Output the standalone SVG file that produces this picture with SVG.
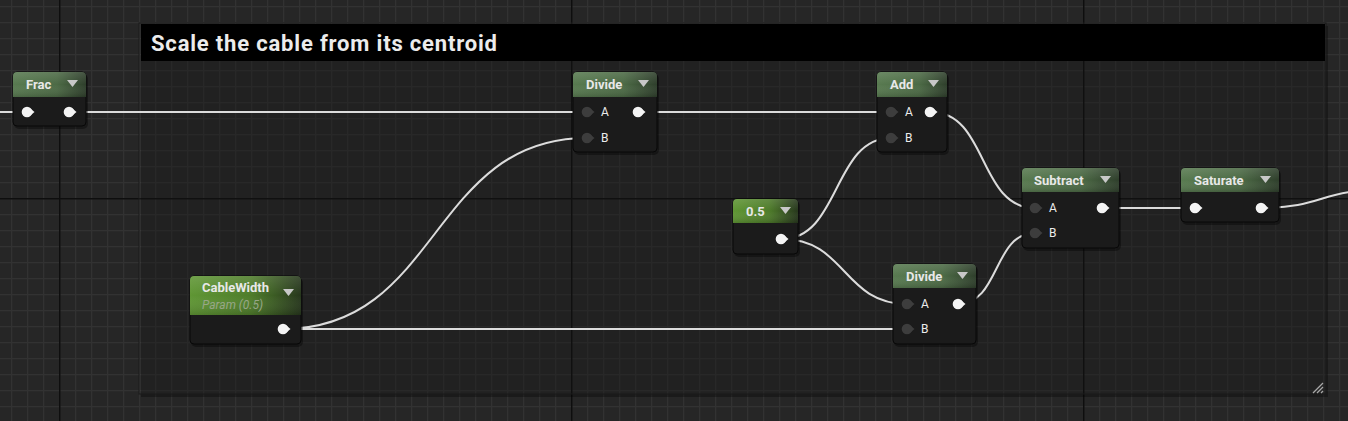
<svg xmlns="http://www.w3.org/2000/svg" width="1348" height="421" viewBox="0 0 1348 421">
<defs>
<pattern id="minor" patternUnits="userSpaceOnUse" x="11" y="6" width="16" height="16">
<path d="M0 0.5H16M0.5 0V16" stroke="#323232" stroke-width="1.5" fill="none"/>
</pattern>
<pattern id="major" patternUnits="userSpaceOnUse" x="59" y="198" width="512" height="512">
<path d="M0 0.5H512M0.5 0V512" stroke="#0e0e0e" stroke-width="2" fill="none"/>
</pattern>
<linearGradient id="hdr" x1="0" y1="0" x2="1" y2="0">
<stop offset="0" stop-color="#587a50"/>
<stop offset="0.6" stop-color="#4c6a45"/>
<stop offset="1" stop-color="#2e3e2b"/>
</linearGradient>
<linearGradient id="hdrB" x1="0" y1="0" x2="1" y2="0">
<stop offset="0" stop-color="#5f9634"/>
<stop offset="0.55" stop-color="#4e7c2a"/>
<stop offset="1" stop-color="#26361c"/>
</linearGradient>
<linearGradient id="shine" x1="0" y1="0" x2="0" y2="1">
<stop offset="0" stop-color="#ffffff" stop-opacity="0.12"/>
<stop offset="0.5" stop-color="#ffffff" stop-opacity="0"/>
<stop offset="1" stop-color="#000000" stop-opacity="0.15"/>
</linearGradient>
</defs>
<style>
.ttl{font-family:Roboto,"Liberation Sans",sans-serif;font-weight:bold;font-size:13px;fill:#e8e8e8}
.lbl{font-family:Roboto,"Liberation Sans",sans-serif;font-size:12px;fill:#ececec}
.sub{font-family:Roboto,"Liberation Sans",sans-serif;font-style:italic;font-size:12px;fill:#97a787}
.body{fill:#1b1b1b;stroke:#080808;stroke-width:1}
.shadow{fill:#000;opacity:0.35}
.tri{fill:#c8c8c8}
.pw{fill:#f4f4f4}
.pd{fill:#3d3d3d}
.wire{fill:none;stroke:#dcdcdc;stroke-width:2}
</style>
<rect width="1348" height="421" fill="#262626"/>
<rect width="1348" height="421" fill="url(#minor)"/>
<rect width="1348" height="421" fill="url(#major)"/>

<g id="comment">
<rect x="141" y="26" width="1187" height="371" fill="#000" opacity="0.3"/>
<rect x="139" y="23" width="1187" height="371" fill="#ffffff" fill-opacity="0.03" stroke="#1a1a1a" stroke-width="1"/>
<rect x="141" y="24" width="1184" height="37" fill="#000000"/>
<text x="151" y="51" font-family="Roboto,'Liberation Sans',sans-serif" font-weight="bold" font-size="22" fill="#ececec" textLength="346" lengthAdjust="spacing">Scale the cable from its centroid</text>
<path d="M1313 393L1323 383M1317 393L1323 387M1321 393L1323 391" stroke="#a8a8a8" stroke-width="1.3"/>
</g>

<g id="connectors">
<path class="wire" d="M0 112H27"/>
<path class="wire" d="M70 112H587"/>
<path class="wire" d="M283 329C440 329 430 138 587 138"/>
<path class="wire" d="M283 329H907"/>
<path class="wire" d="M638 112H891"/>
<path class="wire" d="M782 239C840 239 833 138 891 138"/>
<path class="wire" d="M782 239C846 239 843 304 907 304"/>
<path class="wire" d="M931 112C988 112 978 208 1035 208"/>
<path class="wire" d="M958 304C1000 304 993 233 1035 233"/>
<path class="wire" d="M1103 208H1195"/>
<path class="wire" d="M1262 208C1310 208 1320 196 1350 192"/>
</g>

<g id="frac">
<rect class="shadow" x="14" y="74" width="74" height="55" rx="5"/>
<rect class="body" x="13" y="72" width="73" height="54" rx="4"/>
<path d="M13 97V76Q13 72 17 72H82Q86 72 86 76V97Z" fill="url(#hdr)"/>
<path d="M13 97V76Q13 72 17 72H82Q86 72 86 76V97Z" fill="url(#shine)"/>
<text class="ttl" x="26" y="89">Frac</text>
<path class="tri" d="M67 80H78L72.5 87Z"/>
<circle class="pw" cx="27" cy="112" r="5.3"/><path class="pw" d="M31 109L34.5 112L31 115Z"/>
<circle class="pw" cx="69" cy="112" r="5.3"/><path class="pw" d="M73 109L76.5 112L73 115Z"/>
</g>

<g id="divide1">
<rect class="shadow" x="574" y="74" width="85" height="81" rx="5"/>
<rect class="body" x="573" y="72" width="84" height="80" rx="4"/>
<path d="M573 97V76Q573 72 577 72H653Q657 72 657 76V97Z" fill="url(#hdr)"/>
<path d="M573 97V76Q573 72 577 72H653Q657 72 657 76V97Z" fill="url(#shine)"/>
<text class="ttl" x="586" y="89">Divide</text>
<path class="tri" d="M638 80H649L643.5 87Z"/>
<circle class="pd" cx="587" cy="112" r="5.3"/><path class="pd" d="M591 109L594.5 112L591 115Z"/>
<circle class="pd" cx="587" cy="138" r="5.3"/><path class="pd" d="M591 135L594.5 138L591 141Z"/>
<text class="lbl" x="601" y="116">A</text>
<text class="lbl" x="601" y="142">B</text>
<circle class="pw" cx="638" cy="112" r="5.3"/><path class="pw" d="M642 109L645.5 112L642 115Z"/>
</g>

<g id="add">
<rect class="shadow" x="878" y="74" width="71" height="81" rx="5"/>
<rect class="body" x="877" y="72" width="70" height="80" rx="4"/>
<path d="M877 97V76Q877 72 881 72H943Q947 72 947 76V97Z" fill="url(#hdr)"/>
<path d="M877 97V76Q877 72 881 72H943Q947 72 947 76V97Z" fill="url(#shine)"/>
<text class="ttl" x="890" y="89">Add</text>
<path class="tri" d="M928 80H939L933.5 87Z"/>
<circle class="pd" cx="891" cy="112" r="5.3"/><path class="pd" d="M895 109L898.5 112L895 115Z"/>
<circle class="pd" cx="891" cy="138" r="5.3"/><path class="pd" d="M895 135L898.5 138L895 141Z"/>
<text class="lbl" x="905" y="116">A</text>
<text class="lbl" x="905" y="142">B</text>
<circle class="pw" cx="930" cy="112" r="5.3"/><path class="pw" d="M934 109L937.5 112L934 115Z"/>
</g>

<g id="const05">
<rect class="shadow" x="734" y="201" width="66" height="56" rx="5"/>
<rect class="body" x="733" y="199" width="65" height="55" rx="4"/>
<path d="M733 223V203Q733 199 737 199H794Q798 199 798 203V223Z" fill="url(#hdrB)"/>
<path d="M733 223V203Q733 199 737 199H794Q798 199 798 203V223Z" fill="url(#shine)"/>
<text class="ttl" x="746" y="216">0.5</text>
<path class="tri" d="M780 207H791L785.5 214Z"/>
<circle class="pw" cx="781" cy="239" r="5.3"/><path class="pw" d="M785 236L788.5 239L785 242Z"/>
</g>

<g id="subtract">
<rect class="shadow" x="1023" y="170" width="98" height="81" rx="5"/>
<rect class="body" x="1022" y="168" width="97" height="80" rx="4"/>
<path d="M1022 192V172Q1022 168 1026 168H1115Q1119 168 1119 172V192Z" fill="url(#hdr)"/>
<path d="M1022 192V172Q1022 168 1026 168H1115Q1119 168 1119 172V192Z" fill="url(#shine)"/>
<text class="ttl" x="1034" y="185">Subtract</text>
<path class="tri" d="M1100 176H1111L1105.5 183Z"/>
<circle class="pd" cx="1035" cy="208" r="5.3"/><path class="pd" d="M1039 205L1042.5 208L1039 211Z"/>
<circle class="pd" cx="1035" cy="233" r="5.3"/><path class="pd" d="M1039 230L1042.5 233L1039 236Z"/>
<text class="lbl" x="1049" y="212">A</text>
<text class="lbl" x="1049" y="237">B</text>
<circle class="pw" cx="1102" cy="208" r="5.3"/><path class="pw" d="M1106 205L1109.5 208L1106 211Z"/>
</g>

<g id="saturate">
<rect class="shadow" x="1182" y="170" width="99" height="55" rx="5"/>
<rect class="body" x="1181" y="168" width="98" height="54" rx="4"/>
<path d="M1181 192V172Q1181 168 1185 168H1275Q1279 168 1279 172V192Z" fill="url(#hdr)"/>
<path d="M1181 192V172Q1181 168 1185 168H1275Q1279 168 1279 172V192Z" fill="url(#shine)"/>
<text class="ttl" x="1194" y="185">Saturate</text>
<path class="tri" d="M1260 176H1271L1265.5 183Z"/>
<circle class="pw" cx="1195" cy="208" r="5.3"/><path class="pw" d="M1199 205L1202.5 208L1199 211Z"/>
<circle class="pw" cx="1261" cy="208" r="5.3"/><path class="pw" d="M1265 205L1268.5 208L1265 211Z"/>
</g>

<g id="cablewidth">
<rect class="shadow" x="191" y="278" width="112" height="69" rx="5"/>
<rect class="body" x="190" y="276" width="111" height="68" rx="4"/>
<path d="M190 315V280Q190 276 194 276H297Q301 276 301 280V315Z" fill="url(#hdrB)"/>
<path d="M190 315V280Q190 276 194 276H297Q301 276 301 280V315Z" fill="url(#shine)"/>
<text class="ttl" x="202" y="292">CableWidth</text>
<text class="sub" x="202" y="309">Param (0.5)</text>
<path class="tri" d="M283 289H294L288.5 296Z"/>
<circle class="pw" cx="283" cy="329" r="5.3"/><path class="pw" d="M287 326L290.5 329L287 332Z"/>
</g>

<g id="divide2">
<rect class="shadow" x="894" y="266" width="84" height="81" rx="5"/>
<rect class="body" x="893" y="264" width="83" height="80" rx="4"/>
<path d="M893 288V268Q893 264 897 264H972Q976 264 976 268V288Z" fill="url(#hdr)"/>
<path d="M893 288V268Q893 264 897 264H972Q976 264 976 268V288Z" fill="url(#shine)"/>
<text class="ttl" x="906" y="281">Divide</text>
<path class="tri" d="M957 272H968L962.5 279Z"/>
<circle class="pd" cx="907" cy="304" r="5.3"/><path class="pd" d="M911 301L914.5 304L911 307Z"/>
<circle class="pd" cx="907" cy="329" r="5.3"/><path class="pd" d="M911 326L914.5 329L911 332Z"/>
<text class="lbl" x="921" y="308">A</text>
<text class="lbl" x="921" y="333">B</text>
<circle class="pw" cx="958" cy="304" r="5.3"/><path class="pw" d="M962 301L965.5 304L962 307Z"/>
</g>
</svg>
